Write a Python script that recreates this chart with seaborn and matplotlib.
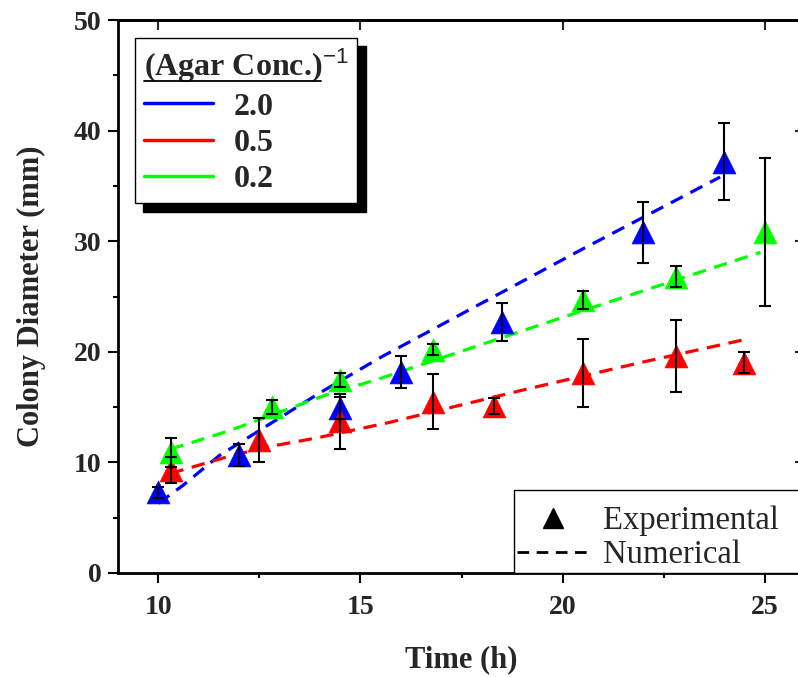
import matplotlib
matplotlib.use("Agg")
import matplotlib.pyplot as plt
import seaborn as sns
import pandas as pd
from matplotlib.lines import Line2D
from matplotlib.patches import Rectangle
from matplotlib.ticker import AutoMinorLocator
from matplotlib.font_manager import FontProperties

# ---------------- data ----------------
conc_labels = ["2.0", "0.5", "0.2"]
colors = ["#0000ff", "#ff0000", "#00ff00"]

# experimental
time_blue = [10, 12, 14.5, 16, 18.5, 22, 24]
dia_blue = [7.3, 10.7, 14.9, 18.2, 22.7, 30.8, 37.2]
err_blue = [0.5, 1.0, 1.0, 1.45, 1.7, 2.75, 3.5]

time_red = [10.3, 12.5, 14.5, 16.8, 18.3, 20.5, 22.8, 24.5]
dia_red = [9.3, 12.0, 13.7, 15.5, 15.1, 18.1, 19.6, 19.0]
err_red = [1.2, 2.0, 2.45, 2.5, 0.7, 3.05, 3.25, 0.95]

time_green = [10.3, 12.8, 14.5, 16.8, 20.5, 22.8, 25]
dia_green = [10.9, 15.0, 17.45, 20.2, 24.7, 26.8, 30.8]
err_green = [1.3, 0.6, 0.6, 0.5, 0.8, 0.95, 6.7]

# numerical
num_t_blue = [10.0, 10.6, 11.5, 12.9, 14.0, 15.5, 18.0, 20.5, 23.9]
num_d_blue = [6.3, 7.9, 10.6, 13.8, 16.3, 19.5, 24.4, 29.3, 35.8]

num_t_red = [10.3, 11.7, 12.7, 13.9, 15.7, 17.5, 19.2, 21.9, 24.5]
num_d_red = [9.0, 10.5, 11.4, 12.2, 13.6, 15.2, 16.7, 19.0, 21.1]

num_t_green = [10.3, 11.7, 12.75, 14.15, 15.5, 20.4, 24.9]
num_d_green = [11.2, 12.8, 14.2, 16.1, 17.6, 23.6, 29.0]

xticks = [10, 15, 20, 25]
yticks = [0, 10, 20, 30, 40, 50]

# ---------------- style ----------------
sns.set_theme(style="ticks")
plt.rcParams["font.family"] = ["Liberation Serif", "DejaVu Serif"]
plt.rcParams["mathtext.fontset"] = "custom"
plt.rcParams["mathtext.rm"] = "Liberation Sans"
plt.rcParams["mathtext.it"] = "Liberation Sans"
plt.rcParams["mathtext.bf"] = "Liberation Sans"

W, H = 798, 677
fig = plt.figure(figsize=(W / 100, H / 100), dpi=100)
ax = fig.add_axes([118 / W, 1 - 573 / H, (805 - 118) / W, (573 - 20) / H])

exp = [(time_blue, dia_blue, err_blue), (time_red, dia_red, err_red),
       (time_green, dia_green, err_green)]
num = [(num_t_blue, num_d_blue), (num_t_red, num_d_red), (num_t_green, num_d_green)]

for (t, d), c in zip(num, colors):
    df = pd.DataFrame({"t": t, "d": d})
    sns.lineplot(data=df, x="t", y="d", ax=ax, color=c, lw=2.3, sort=False,
                 linestyle=(0, (4.2, 2.7)), zorder=2)

for (t, d, e), c in zip(exp, colors):
    df = pd.DataFrame({"t": t, "d": d})
    sns.scatterplot(data=df, x="t", y="d", ax=ax, color=c, marker="^", s=270,
                    edgecolor=c, linewidth=0.5, zorder=3)
    ax.errorbar(t, d, yerr=e, fmt="none", ecolor="black", elinewidth=1.5,
                capsize=4.5, capthick=1.5, zorder=4)

ax.set_xlim(9, 26)
ax.set_ylim(0, 50)
ax.set_xticks(xticks)
ax.set_yticks(yticks)
ax.xaxis.set_minor_locator(AutoMinorLocator(2))
ax.yaxis.set_minor_locator(AutoMinorLocator(2))

tick_font = FontProperties(family="Liberation Serif", weight="bold", size=20)
for lab in ax.get_xticklabels() + ax.get_yticklabels():
    lab.set_fontproperties(tick_font)

ax.tick_params(which="major", direction="out", length=7, width=1.5, color="black")
ax.tick_params(which="minor", direction="out", length=3.5, width=1.5, color="black")
ax.tick_params(axis="x", which="major", pad=9)
ax.tick_params(axis="y", which="major", pad=5)
for sp in ax.spines.values():
    sp.set_visible(True)
    sp.set_linewidth(2.0)
    sp.set_color("black")

secx = ax.secondary_xaxis("top")
secx.set_xticks(xticks)
secx.tick_params(direction="in", length=7, width=1.5, labeltop=False)
secx.spines["top"].set_linewidth(2.0)
secy = ax.secondary_yaxis("right")
secy.set_yticks(yticks)
secy.tick_params(direction="in", length=7, width=1.5, labelright=False)
secy.spines["right"].set_linewidth(2.0)

label_font = FontProperties(family="Liberation Serif", weight="bold", size=22)
ax.set_xlabel("Time (h)", fontproperties=label_font, labelpad=18)
ax.set_ylabel("Colony Diameter (mm)", fontproperties=label_font, labelpad=20)

# ---------------- legend 1 ----------------
h1 = [Line2D([], [], color=c, lw=2.5) for c in colors]
leg_font = FontProperties(family="Liberation Serif", weight="bold", size=23)
leg1 = ax.legend(h1, conc_labels, title="(Agar Conc.)$^{-1}$",
                 loc="upper left", bbox_to_anchor=(135 / W, 1 - 38 / H),
                 bbox_transform=fig.transFigure, frameon=True, fancybox=False,
                 edgecolor="black", framealpha=1,
                 shadow={"ox": 6, "oy": -6, "facecolor": "black",
                         "edgecolor": "black", "alpha": 1},
                 prop=leg_font, title_fontproperties=leg_font, alignment="left",
                 handlelength=2.15, handletextpad=0.65, borderpad=0.28,
                 borderaxespad=0, labelspacing=0.22)
leg1.get_frame().set_linewidth(1.0)
ax.add_artist(leg1)

# ---------------- legend 2 ----------------
box = Rectangle((514 / W, 1 - 573 / H), (840 - 514) / W, (573 - 490) / H,
                transform=fig.transFigure, facecolor="white", edgecolor="black",
                lw=1.0, zorder=4.5, clip_on=False)
ax.add_patch(box)
h2 = [Line2D([], [], marker="^", color="black", linestyle="none", markersize=15),
      Line2D([], [], color="black", lw=2.0, linestyle=(0, (4.2, 2.7)))]
leg2_font = FontProperties(family="Liberation Serif", size=23.5)
leg2 = ax.legend(h2, ["Experimental", "Numerical"],
                 loc="lower left", bbox_to_anchor=(512 / W, 1 - 575 / H),
                 bbox_transform=fig.transFigure, frameon=False,
                 prop=leg2_font, handlelength=2.2, handletextpad=0.45,
                 borderpad=0.15, borderaxespad=0, labelspacing=0.1)

# underline legend title
fig.canvas.draw()
r = fig.canvas.get_renderer()
tt = leg1.get_title()
bb = tt.get_window_extent(r)
tmp = fig.text(0, 0, "(Agar Conc.)", fontproperties=leg_font)
wtxt = tmp.get_window_extent(r).width
tmp.remove()
inv = fig.transFigure.inverted()
p0 = inv.transform((bb.x0, bb.y0 + 4))
p1 = inv.transform((bb.x0 + wtxt, bb.y0 + 4))
fig.add_artist(Line2D([p0[0], p1[0]], [p0[1], p1[1]], color="black", lw=1.3,
                      transform=fig.transFigure, zorder=10))

fig.savefig("out.png", dpi=100)
